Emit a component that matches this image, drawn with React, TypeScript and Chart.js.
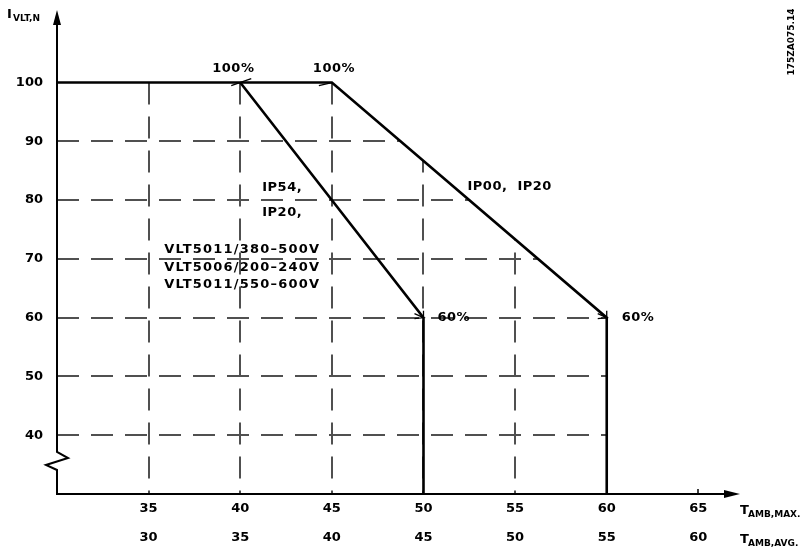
import React, { useEffect, useRef } from "react";
import { Chart, registerables } from "chart.js";

Chart.register(...registerables);

// Temperature axis (maximum ambient) tick labels and the matching average ambient labels
const tempMaxTicks = [35, 40, 45, 50, 55, 60, 65];
const tempAvgTicks = [30, 35, 40, 45, 50, 55, 60];
// Current axis ticks (% of nominal)
const currentTicks = [40, 50, 60, 70, 80, 90, 100];
const gridX = [35, 40, 45, 50, 55, 60];
const gridY = [40, 50, 60, 70, 80, 90];

// Derating curve: IP54 / IP20 units
const ip54Temps = [40, 50, 50];
const ip54Current = [100, 60, 30];
// Derating curve: IP00 / IP20 units
const ip00Temps = [30, 45, 60, 60];
const ip00Current = [100, 100, 60, 30];

const FONT = "'DejaVu Sans', sans-serif";

const drawPlugin = {
  id: "cadDrawing",
  beforeDatasetsDraw(chart: any) {
    const ctx = chart.ctx;
    const xs = chart.scales.x;
    const ys = chart.scales.y;
    const X = (v: number) => xs.getPixelForValue(v);
    const Y = (v: number) => ys.getPixelForValue(v);
    ctx.save();
    // clip grid to area beneath the IP00 curve
    ctx.beginPath();
    ip00Temps.forEach((t, i) => {
      const px = X(t), py = Y(ip00Current[i]);
      if (i === 0) ctx.moveTo(px, py); else ctx.lineTo(px, py);
    });
    ctx.lineTo(X(30), Y(30));
    ctx.closePath();
    ctx.clip();
    ctx.strokeStyle = "#505050";
    ctx.lineWidth = 2;
    ctx.setLineDash([22, 12]);
    gridX.forEach((v) => {
      ctx.beginPath();
      ctx.moveTo(Math.round(X(v)), Y(100));
      ctx.lineTo(Math.round(X(v)), Y(30));
      ctx.stroke();
    });
    gridY.forEach((v) => {
      ctx.beginPath();
      ctx.moveTo(X(30), Math.round(Y(v)));
      ctx.lineTo(X(60), Math.round(Y(v)));
      ctx.stroke();
    });
    ctx.restore();
  },
  afterDatasetsDraw(chart: any) {
    const ctx = chart.ctx;
    const xs = chart.scales.x;
    const ys = chart.scales.y;
    const X = (v: number) => xs.getPixelForValue(v);
    const Y = (v: number) => ys.getPixelForValue(v);
    ctx.save();
    ctx.setLineDash([]);
    ctx.strokeStyle = "#000";
    ctx.fillStyle = "#000";
    ctx.lineWidth = 2;
    const ax = Math.round(X(30));
    const ay = Math.round(Y(30));
    // axes with break symbol
    ctx.beginPath();
    ctx.moveTo(ax, 20);
    ctx.lineTo(ax, 452);
    ctx.lineTo(ax + 11, 458);
    ctx.lineTo(ax - 11, 465);
    ctx.lineTo(ax, 470);
    ctx.lineTo(ax, ay);
    ctx.lineTo(730, ay);
    ctx.stroke();
    // arrowheads
    ctx.beginPath();
    ctx.moveTo(ax, 10);
    ctx.lineTo(ax - 4, 25);
    ctx.lineTo(ax + 4, 25);
    ctx.closePath();
    ctx.fill();
    ctx.beginPath();
    ctx.moveTo(740, ay);
    ctx.lineTo(724, ay - 4);
    ctx.lineTo(724, ay + 4);
    ctx.closePath();
    ctx.fill();
    // tick at 65
    ctx.lineWidth = 1.5;
    ctx.beginPath();
    ctx.moveTo(Math.round(X(65)), ay);
    ctx.lineTo(Math.round(X(65)), ay - 5);
    ctx.stroke();

    // leader marks
    ctx.lineWidth = 1.3;
    const p1 = { x: X(40), y: Y(100) };
    const p2 = { x: X(45), y: Y(100) };
    const p3 = { x: X(50), y: Y(60) };
    const p4 = { x: X(60), y: Y(60) };
    ctx.beginPath();
    ctx.moveTo(p1.x - 9, p1.y + 3);
    ctx.lineTo(p1.x + 11, p1.y - 4);
    ctx.moveTo(p2.x - 13, p2.y + 3);
    ctx.lineTo(p2.x, p2.y);
    [p3, p4].forEach((p) => {
      ctx.moveTo(p.x - 9, p.y - 4);
      ctx.lineTo(p.x, p.y);
      ctx.lineTo(p.x - 9, p.y + 1);
      ctx.moveTo(p.x, p.y);
      ctx.lineTo(p.x, p.y - 7);
    });
    ctx.stroke();

    // tick labels
    ctx.font = `bold 13px ${FONT}`;
    ctx.textBaseline = "middle";
    ctx.textAlign = "right";
    currentTicks.forEach((v) => ctx.fillText(String(v), 43, Y(v)));
    ctx.textAlign = "center";
    tempMaxTicks.forEach((v) => ctx.fillText(String(v), X(v), 509));
    tempAvgTicks.forEach((v, i) => ctx.fillText(String(v), X(tempMaxTicks[i]), 538));

    // axis titles
    ctx.textAlign = "left";
    ctx.textBaseline = "alphabetic";
    ctx.font = `bold 13px ${FONT}`;
    ctx.fillText("I", 7, 18);
    ctx.font = `bold 9px ${FONT}`;
    ctx.fillText("VLT,N", 13, 21);
    ctx.font = `bold 13px ${FONT}`;
    ctx.fillText("T", 740, 514);
    ctx.fillText("T", 740, 543);
    ctx.font = `bold 9px ${FONT}`;
    ctx.fillText("AMB,MAX.", 748, 517);
    ctx.fillText("AMB,AVG.", 748, 546);

    // annotations
    ctx.font = `bold 13px ${FONT}`;
    (ctx as any).letterSpacing = "0.5px";
    ctx.textBaseline = "middle";
    ctx.fillText("100%", p1.x - 28, p1.y - 14);
    ctx.fillText("100%", p2.x - 19, p2.y - 14);
    ctx.fillText("60%", p3.x + 14, p3.y);
    ctx.fillText("60%", p4.x + 15, p4.y);
    ctx.fillText("IP54,", X(41.2), Y(82.1));
    ctx.fillText("IP20,", X(41.2), Y(77.8));
    ctx.fillText("IP00,  IP20", X(52.4), Y(82.3));
    (ctx as any).letterSpacing = "1.2px";
    ctx.fillText("VLT5011/380\u2013500V", X(35.85), Y(71.5));
    ctx.fillText("VLT5006/200\u2013240V", X(35.85), Y(68.5));
    ctx.fillText("VLT5011/550\u2013600V", X(35.85), Y(65.6));
    (ctx as any).letterSpacing = "0px";

    // drawing number
    ctx.save();
    ctx.translate(792, 42);
    ctx.rotate(-Math.PI / 2);
    ctx.font = `bold 9px ${FONT}`;
    ctx.textAlign = "center";
    ctx.fillText("175ZA075.14", 0, 0);
    ctx.restore();
    ctx.restore();
  },
};

export default function App() {
  const ref = useRef<HTMLCanvasElement | null>(null);
  useEffect(() => {
    if (!ref.current) return;
    const chart = new Chart(ref.current, {
      type: "line",
      data: {
        datasets: [
          {
            label: "IP00, IP20",
            data: ip00Temps.map((t, i) => ({ x: t, y: ip00Current[i] })),
            borderColor: "#000",
            borderWidth: 2.6,
            pointRadius: 0,
            tension: 0,
          },
          {
            label: "IP54, IP20",
            data: ip54Temps.map((t, i) => ({ x: t, y: ip54Current[i] })),
            borderColor: "#000",
            borderWidth: 2.6,
            pointRadius: 0,
            tension: 0,
          },
        ],
      },
      options: {
        responsive: false,
        animation: false,
        devicePixelRatio: 1,
        layout: { padding: { left: 57, right: 66, top: 12, bottom: 54 } },
        plugins: { legend: { display: false }, tooltip: { enabled: false } },
        scales: {
          x: { type: "linear", min: 30, max: 67, display: false },
          y: { type: "linear", min: 30, max: 112, display: false },
        },
      },
      plugins: [drawPlugin],
    });
    return () => chart.destroy();
  }, []);
  return (
    <div style={{ position: "absolute", left: 0, top: 0, width: 801, height: 548, background: "#fff" }}>
      <canvas ref={ref} width={801} height={548} style={{ display: "block" }} />
    </div>
  );
}
